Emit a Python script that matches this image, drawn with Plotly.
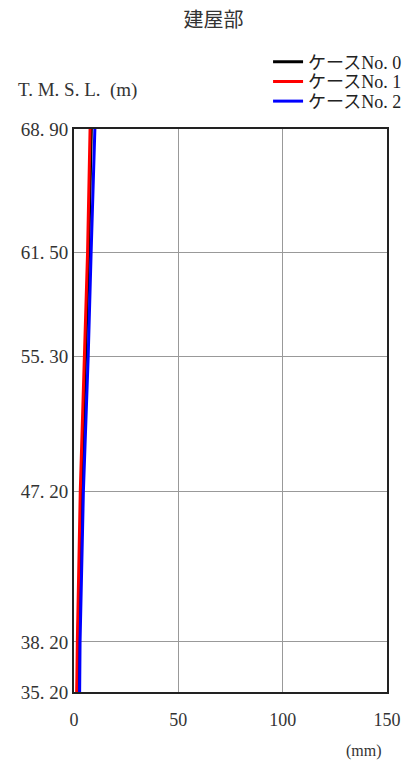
import plotly.graph_objects as go

levels = [35.2, 38.2, 47.2, 55.3, 61.5, 68.9]
level_labels = ["35. 20", "38. 20", "47. 20", "55. 30", "61. 50", "68. 90"]
case0 = [1.6, 1.9, 3.6, 5.5, 7.0, 8.3]
case1 = [1.3, 1.6, 3.0, 5.0, 6.5, 7.7]
case2 = [2.7, 2.9, 4.5, 6.8, 8.2, 10.0]
names = ["ケースNo. 0", "ケースNo. 1", "ケースNo. 2"]
colors = ["#000000", "#ff0000", "#0000ff"]
x_ticks = [0, 50, 100, 150]

FONT = "Liberation Serif, Noto Sans CJK JP, serif"
legend_keys = ["legend", "legend2", "legend3"]
legend_y = [1.119, 1.084, 1.049]

fig = go.Figure()
for vals, nm, c, lk in zip([case0, case1, case2], names, colors, legend_keys):
    fig.add_trace(go.Scatter(x=vals, y=levels, mode="lines", name=nm,
                             line=dict(color=c, width=3), legend=lk))

leg_common = dict(x=0.62, xanchor="left", yanchor="middle",
                  font=dict(size=18, family=FONT, color="#222"),
                  bgcolor="rgba(0,0,0,0)", itemwidth=30)

fig.update_layout(
    width=395, height=756,
    paper_bgcolor="white", plot_bgcolor="white",
    margin=dict(l=66, r=16, t=121, b=72, autoexpand=False),
    font=dict(family=FONT, size=16, color="#222"),
    title=dict(text="建屋部", x=0.52, xanchor="center", y=0.993, yanchor="top",
               font=dict(size=20, family=FONT, color="#333")),
    legend=dict(y=legend_y[0], **leg_common),
    legend2=dict(y=legend_y[1], **leg_common),
    legend3=dict(y=legend_y[2], **leg_common),
    showlegend=True,
)
fig.update_xaxes(range=[0, 150], tickvals=x_ticks, ticktext=[str(v) for v in x_ticks],
                 showgrid=True, gridcolor="#999", gridwidth=1,
                 showline=True, linecolor="#222", linewidth=2, mirror=True,
                 zeroline=False, ticks="", ticklen=0, automargin=False,
                 ticklabelstandoff=10,
                 tickfont=dict(size=18, family=FONT, color="#333"))
fig.update_yaxes(range=[35.2, 68.9], tickvals=levels, ticktext=level_labels,
                 showgrid=True, gridcolor="#999", gridwidth=1,
                 showline=True, linecolor="#222", linewidth=2, mirror=True,
                 zeroline=False, ticks="", automargin=False,
                 tickfont=dict(size=19, family=FONT, color="#333"))

fig.add_annotation(text="T. M. S. L.  (m)", xref="paper", yref="paper",
                   x=-0.185, xanchor="left", y=1.07, yanchor="middle",
                   showarrow=False, font=dict(size=19, family=FONT, color="#333"))
fig.add_annotation(text="(mm)", xref="paper", yref="paper",
                   x=0.99, xanchor="right", y=-0.104, yanchor="middle",
                   showarrow=False, font=dict(size=16, family=FONT, color="#333"))

fig.write_html("out.html")
